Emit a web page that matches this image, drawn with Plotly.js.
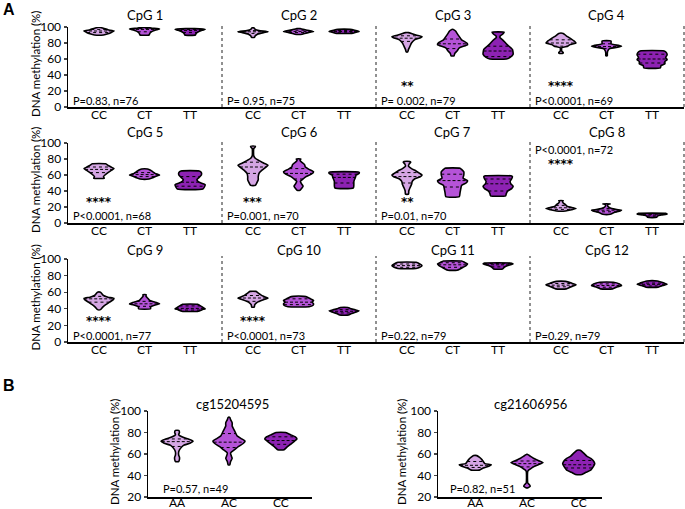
<!DOCTYPE html>
<html><head><meta charset="utf-8">
<script src="https://cdn.plot.ly/plotly-3.0.1.min.js"></script>
<style>body{margin:0;background:#fff}#chart{width:685px;height:509px}</style>
</head><body><div id="chart"></div>
<script>
// ---------------- data ----------------
const catsA = ['CC', 'CT', 'TT'];
const catsB = ['AA', 'AC', 'CC'];
const titlesA = ['CpG 1','CpG 2','CpG 3','CpG 4','CpG 5','CpG 6','CpG 7','CpG 8','CpG 9','CpG 10','CpG 11','CpG 12'];
const pTextA = ['P=0.83, n=76','P= 0.95, n=75','P= 0.002, n=79','P<0.0001, n=69','P<0.0001, n=68','P=0.001, n=70','P=0.01, n=70','P<0.0001, n=72','P<0.0001, n=77','P<0.0001, n=73','P=0.22, n=79','P=0.29, n=79'];
const starsA = ['', '', '**', '****', '****', '***', '**', '****', '****', '****', '', ''];
const titlesB = ['cg15204595', 'cg21606956'];
const pTextB = ['P=0.57, n=49', 'P=0.82, n=51'];
const yTicksA = [0, 20, 40, 60, 80, 100];
const yTicksB = [20, 40, 60, 80, 100];

// violin outlines per genotype: [methylation %, relative half-width]
const cpg1 = [
  [[90,0.3],[91.5,0.6],[93.5,0.85],[95,1],[96.5,0.6],[98,0.35],[99.5,0.1]],
  [[90,0.3],[92,0.35],[94,0.45],[96,0.7],[97.5,1],[98.5,0.5],[99.5,0.1]],
  [[90,0.35],[92,0.4],[94,0.55],[96,0.8],[97,1],[98,0.3]]];
const cpg2 = [
  [[87,0.1],[89,0.15],[91,0.3],[93,0.7],[94,1],[95.5,0.4],[97,0.15],[99,0.05]],
  [[91,0.25],[92,0.4],[93.5,0.75],[94.5,1],[96,0.6],[97.5,0.2],[98,0.1]],
  [[92,0.5],[93.5,0.8],[94.5,1],[96,0.7],[97,0.4]]];
const cpg3 = [
  [[69,0.05],[72,0.1],[76,0.2],[80,0.3],[84,0.5],[86.5,0.9],[88,1],[90,0.6],[92,0.3],[93,0.1]],
  [[64,0.1],[67,0.15],[70,0.3],[74,0.45],[78,1],[80,0.95],[84,0.6],[88,0.45],[92,0.3],[95,0.2],[97,0.05]],
  [[60,0.55],[62,0.8],[66,1],[72,0.95],[78,0.6],[84,0.3],[87,0.12],[89,0.15],[91,0.3],[93.5,0.4]]];
const cpg4 = [
  [[67,0.12],[68,0.15],[70,0.05],[74,0.05],[76,0.45],[78,0.6],[80,1],[82,0.9],[86,0.6],[89,0.35],[92,0.15]],
  [[64,0.05],[67,0.05],[70,0.08],[73,0.2],[75,0.8],[76,1],[77,0.8],[79,0.3],[82.5,0.3]],
  [[49,0.55],[52,0.6],[54,0.85],[57,0.85],[59,1],[62,0.9],[65,1],[68,0.95],[70,0.8]]];
const cpg5 = [
  [[56,0.35],[58,0.3],[60,0.4],[63,0.6],[66,0.85],[68,1],[70,0.8],[72,0.6],[74,0.45]],
  [[55,0.3],[57,0.6],[59,0.85],[60,1],[62,0.7],[64,0.55],[66,0.4],[67.5,0.2]],
  [[42.5,0.85],[45,0.95],[48,1],[51,0.6],[54,0.45],[57,0.6],[60,0.75],[63,0.75],[65,0.6]]];
const cpg6 = [
  [[47,0.15],[50,0.25],[54,0.35],[58,0.35],[62,0.4],[66,0.6],[69,0.8],[72,1],[75,0.7],[78,0.4],[81,0.15],[84,0.05],[93,0.05],[95,0.15],[96,0.15]],
  [[41,0.1],[43,0.2],[46,0.3],[49,0.2],[52,0.12],[55,0.3],[58,0.5],[61,0.85],[64,1],[67,0.7],[70,0.45],[73,0.4],[76,0.2],[78,0.1],[80,0.15]],
  [[44,0.62],[52,0.65],[57,0.75],[60,0.8],[62,1],[63.5,1]]];
const cpg7 = [
  [[36,0.1],[40,0.12],[44,0.2],[48,0.3],[52,0.35],[55,0.5],[58,0.9],[60,1],[62,0.85],[65,0.6],[68,0.3],[71,0.1],[74,0.15],[76,0.25],[77,0.2]],
  [[33,0.45],[38,0.5],[43,0.55],[47,0.6],[50,0.9],[53,1],[56,0.7],[60,0.75],[64,0.75],[67,0.6],[68.5,0.5]],
  [[34,0.5],[37,0.55],[40,0.65],[43,0.9],[46,1],[49,0.85],[52,0.8],[55,0.9],[58,0.95],[59,0.85]]];
const cpg8 = [
  [[15,0.3],[16.5,0.7],[18,1],[19,0.8],[21,0.4],[23,0.3],[25,0.15],[27,0.1],[28,0.15]],
  [[11,0.25],[13,0.5],[15,0.9],[16,1],[17,0.6],[19,0.2],[21,0.08],[23,0.08],[24,0.25]],
  [[7,0.3],[8.5,0.35],[10,0.6],[11,1],[12,0.9]]];
const cpg9 = [
  [[39,0.1],[42,0.25],[45,0.45],[48,0.7],[51,0.95],[52.5,1],[54,0.6],[56,0.3],[58,0.2],[60,0.1]],
  [[40,0.4],[42,0.4],[44,0.6],[46,1],[47.5,0.8],[50,0.35],[53,0.2],[55,0.1],[57,0.1]],
  [[37,0.55],[39,0.8],[40,1],[41,0.9],[43,0.75],[44.5,0.6],[45.5,0.5]]];
const cpg10 = [
  [[42,0.08],[45,0.12],[48,0.3],[51,0.7],[53,1],[55,0.7],[57,0.5],[59,0.35],[61,0.2]],
  [[42.5,0.7],[44,0.95],[46,1],[48,0.9],[50,1],[52,0.8],[54,0.6],[55,0.35]],
  [[32.5,0.3],[34,0.45],[36,0.8],[37.5,1],[39,0.7],[40.5,0.4],[41.5,0.25]]];
const cpg11 = [
  [[88.5,0.6],[90,0.85],[92,1],[94,0.85],[96,0.6]],
  [[86.5,0.3],[88,0.5],[90,0.7],[92,0.9],[94,1],[96,0.8],[97.5,0.6]],
  [[88,0.3],[90,0.4],[92,0.6],[94,1],[95,0.9]]];
const cpg12 = [
  [[64,0.35],[66,0.6],[68,0.9],[69,1],[71,0.7],[73,0.3]],
  [[64,0.4],[66,0.65],[68,1],[70,0.85],[72,0.45]],
  [[66,0.4],[68,0.7],[69.5,1],[71,0.8],[73.5,0.35]]];
const cg15204595 = [
  [[53,0.1],[55,0.15],[57,0.15],[59,0.1],[62,0.1],[65,0.2],[68,0.4],[70,0.8],[72,1],[74,0.7],[76,0.3],[78,0.1],[80,0.15],[82,0.1]],
  [[50,0.05],[53,0.1],[56,0.2],[58,0.15],[61,0.1],[64,0.35],[67,0.6],[70,0.9],[72,1],[74,0.8],[77,0.5],[80,0.4],[83,0.3],[86,0.2],[89,0.2],[92,0.1],[94,0.05]],
  [[64,0.2],[66,0.35],[69,0.6],[72,0.85],[74,1],[76,0.9],[78,0.6],[80,0.3]]];
const cg21606956 = [
  [[45,0.25],[47,0.5],[49,0.9],[50,1],[51,0.6],[53,0.5],[55,0.4],[57,0.25],[58.5,0.1]],
  [[28.5,0.05],[30,0.2],[31.5,0.15],[33,0.05],[44,0.05],[46,0.2],[48,0.4],[50,0.7],[52,1],[54,0.7],[56,0.4],[58,0.2],[59.5,0.05]],
  [[41,0.2],[43,0.45],[45,0.75],[48,0.9],[51,1],[54,0.9],[56,0.75],[58,0.5],[61,0.3],[63.5,0.1]]];

// quartiles per genotype: [Q1, median, Q3]
const quartA = [
  [[93,95,97],[94,97,98],[93,95.5,97]],
  [[92,94,95.5],[93,94.5,96],[93.5,94.5,95.5]],
  [[82,86,89],[73,79,85],[63,70,76]],
  [[76,80,84],[73,75.5,79],[55,60,66]],
  [[63,67,70],[58,60.5,63],[46,51,58]],
  [[62,70,76],[55,62,68],[50,57,61]],
  [[50,58,63],[45,53,61],[40,49,55]],
  [[17,19,22],[14,16,18],[8.5,10,11]],
  [[48,52,55],[43,46,49],[38.5,40.5,43.5]],
  [[49,53,56],[45,48,52],[35,37,39]],
  [[90,92,94],[90,93,95.5],[90.5,93,94.5]],
  [[66.5,68.5,70.5],[66,68,70],[67.5,69.5,71]]];
const quartB = [
  [[67,71.5,74],[66,71,79],[69,72.5,76]],
  [[47.5,49.5,53],[48,51,53.5],[47,50,54]]];

const profilesA = [cpg1,cpg2,cpg3,cpg4,cpg5,cpg6,cpg7,cpg8,cpg9,cpg10,cpg11,cpg12];
const profilesB = [cg15204595, cg21606956];
const fillColors = ['#d5a6e4', '#b553d8', '#8d22b3'];

// ---------------- layout helpers ----------------
const FW = 685, FH = 509;
const PX = p => p / FW, PY = p => 1 - p / FH;
const font = 'Lato, "Open Sans", sans-serif';

function interpW(prof, y) {
  if (y < prof[0][0] || y > prof[prof.length-1][0]) return 0;
  for (let i = 0; i < prof.length - 1; i++) {
    const [y0, w0] = prof[i], [y1, w1] = prof[i+1];
    if (y >= y0 && y <= y1) return y1 === y0 ? w0 : w0 + (w1 - w0) * (y - y0) / (y1 - y0);
  }
  return prof[prof.length-1][1];
}

const traces = [];
const layout = {
  width: FW, height: FH, margin: {l:0, r:0, t:0, b:0},
  paper_bgcolor: '#fff', plot_bgcolor: 'rgba(0,0,0,0)',
  showlegend: false, font: {family: font, color: '#000'},
  annotations: [], shapes: []
};

function addPanel(n, profs, quarts, cats, W, xdom, ydom, xrange, yrange, yticks, showY, standoff) {
  const xa = n === 1 ? 'x' : 'x' + n, ya = n === 1 ? 'y' : 'y' + n;
  profs.forEach((prof, c) => {
    const xs = [], ys = [];
    prof.forEach(([y, w]) => { xs.push(c - w * W); ys.push(y); });
    for (let i = prof.length - 1; i >= 0; i--) { xs.push(c + prof[i][1] * W); ys.push(prof[i][0]); }
    xs.push(xs[0]); ys.push(ys[0]);
    traces.push({type:'scatter', mode:'lines', x:xs, y:ys, fill:'toself', fillcolor:fillColors[c],
      line:{color:'#000', width:1.6, shape:'spline', smoothing:0.5}, xaxis:xa, yaxis:ya, hoverinfo:'skip'});
  });
  const dx = [], dy = [], mx = [], my = [];
  quarts.forEach((q, c) => {
    [q[0], q[2]].forEach(v => { const w = interpW(profs[c], v) * W; dx.push(c - w, c + w, null); dy.push(v, v, null); });
    const w = interpW(profs[c], q[1]) * W; mx.push(c - w, c + w, null); my.push(q[1], q[1], null);
  });
  traces.push({type:'scatter', mode:'lines', x:dx, y:dy, line:{color:'#000', width:1, dash:'dot'}, xaxis:xa, yaxis:ya, hoverinfo:'skip'});
  traces.push({type:'scatter', mode:'lines', x:mx, y:my, line:{color:'#000', width:1, dash:'3px,2px'}, xaxis:xa, yaxis:ya, hoverinfo:'skip'});

  layout[n === 1 ? 'xaxis' : 'xaxis' + n] = {
    domain: xdom, range: xrange, anchor: ya, tickvals: [0,1,2], ticktext: cats,
    showline: true, linecolor: '#000', linewidth: 1.5, ticks: '', showgrid: false, zeroline: false,
    ticklabelstandoff: standoff, tickfont: {size: 12, family: font}, fixedrange: true
  };
  layout[n === 1 ? 'yaxis' : 'yaxis' + n] = {
    domain: ydom, range: yrange, anchor: xa, tickvals: yticks,
    showline: showY, linecolor: '#000', linewidth: 1.5, ticks: showY ? 'outside' : '', ticklen: 3, tickwidth: 1.3,
    showticklabels: showY, showgrid: false, zeroline: false, tickfont: {size: 12, family: font}, fixedrange: true
  };
}

// Panel A grid
const colLeft = [68, 222, 376, 530], colW = 154;
const rowTop = [27, 143, 259], rowBot = [107, 223, 342];
const titleY = [15, 132, 250];
for (let i = 0; i < 12; i++) {
  const r = Math.floor(i / 4), c = i % 4;
  addPanel(i + 1, profilesA[i], quartA[i], catsA, 0.33,
    [PX(colLeft[c]), PX(colLeft[c] + colW)], [PY(rowBot[r]), PY(rowTop[r])],
    [-0.68, 2.7], [0, 100], yTicksA, c === 0, -4);
  const cx = colLeft[c] + 31 + 45.5;
  layout.annotations.push({text: titlesA[i], x: PX(cx), y: PY(titleY[r]), xref:'paper', yref:'paper',
    showarrow:false, font:{size:13, family:font}, xanchor:'center', yanchor:'middle'});
  const special = (i === 7);
  layout.annotations.push({text: pTextA[i], x: PX(colLeft[c] + 3), y: PY(special ? rowTop[r] + 7 : rowBot[r] - 7),
    xref:'paper', yref:'paper', showarrow:false, font:{size:11, family:font}, xanchor:'left', yanchor:'middle'});
  if (starsA[i]) {
    layout.annotations.push({text: '<b>' + starsA[i] + '</b>', x: PX(colLeft[c] + 31), y: PY(special ? rowTop[r] + 21 : rowBot[r] - 21),
      xref:'paper', yref:'paper', showarrow:false, font:{size:12, family:'DejaVu Sans'}, xanchor:'center', yanchor:'middle'});
  }
  layout.shapes.push({type:'line', xref:'paper', yref:'paper', x0: PX(colLeft[c] + colW), x1: PX(colLeft[c] + colW),
    y0: PY(rowBot[r]), y1: PY(rowTop[r] - 3), line:{color:'#222', width:1, dash:'dot'}});
}
for (let r = 0; r < 3; r++) {
  layout.annotations.push({text:'DNA methylation (%)', x: PX(35), y: PY((rowTop[r] + rowBot[r]) / 2 - 3), xref:'paper', yref:'paper',
    showarrow:false, textangle:-90, font:{size:11.5, family:font}, xanchor:'center', yanchor:'middle'});
}

// Panel B
const bLeft = [148, 438], bW = 164, bTop = 411, bBot = 497;
const bRanges = [[-0.56, 2.6], [-0.72, 2.45]];
for (let k = 0; k < 2; k++) {
  addPanel(13 + k, profilesB[k], quartB[k], catsB, 0.31,
    [PX(bLeft[k]), PX(bLeft[k] + bW)], [PY(bBot), PY(bTop)], bRanges[k], [20, 100], yTicksB, true, -6);
  layout.annotations.push({text: titlesB[k], x: PX(k === 0 ? 232 : 530), y: PY(404), xref:'paper', yref:'paper',
    showarrow:false, font:{size:13, family:font}, xanchor:'center', yanchor:'middle'});
  layout.annotations.push({text: pTextB[k], x: PX(k === 0 ? 161 : 448), y: PY(488), xref:'paper', yref:'paper',
    showarrow:false, font:{size:11, family:font}, xanchor:'left', yanchor:'middle'});
  layout.annotations.push({text:'DNA methylation (%)', x: PX(k === 0 ? 114 : 401), y: PY(452), xref:'paper', yref:'paper',
    showarrow:false, textangle:-90, font:{size:11.5, family:font}, xanchor:'center', yanchor:'middle'});
}

layout.annotations.push({text:'<b>A</b>', x: PX(9), y: PY(9), xref:'paper', yref:'paper', showarrow:false,
  font:{size:16, family:'Liberation Sans, Arial'}, xanchor:'center', yanchor:'middle'});
layout.annotations.push({text:'<b>B</b>', x: PX(9), y: PY(385), xref:'paper', yref:'paper', showarrow:false,
  font:{size:16, family:'Liberation Sans, Arial'}, xanchor:'center', yanchor:'middle'});

Plotly.newPlot('chart', traces, layout, {staticPlot: true, displayModeBar: false});
</script></body></html>
